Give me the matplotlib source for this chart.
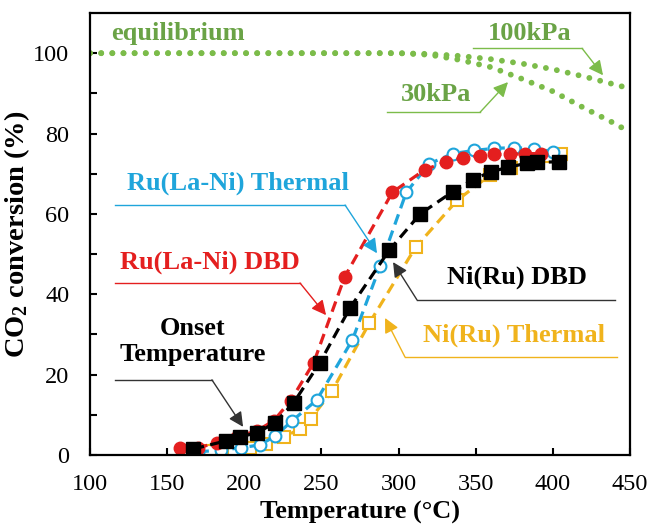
import numpy as np
import matplotlib
matplotlib.use("Agg")
import matplotlib.pyplot as plt

plt.rcParams['font.family'] = 'Liberation Serif'
plt.rcParams['mathtext.fontset'] = 'custom'
plt.rcParams['mathtext.rm'] = 'Liberation Serif'
plt.rcParams['mathtext.bf'] = 'Liberation Serif:bold'
plt.rcParams['mathtext.default'] = 'bf'

# equilibrium conversion at two pressures
eq_T = [100, 150, 200, 250, 300, 320, 340, 360, 380, 400, 420, 440, 450]
eq_100kPa = [100, 100, 100, 100, 100, 99.8, 99.3, 98.5, 97.4, 96.0, 94.2, 92.2, 91.2]
eq_30kPa = [100, 100, 100, 100, 100, 99.6, 98.3, 96.5, 93.6, 90.5, 86.4, 82.5, 80.3]

# Ru(La-Ni) DBD
ru_dbd_T = [158, 170, 182, 195, 208, 219, 230, 245, 265, 296, 317, 331, 342, 353, 362, 372, 382, 392]
ru_dbd = [1.8, 1.8, 3.0, 4.5, 6.0, 8.5, 13.5, 23.0, 44.3, 65.4, 71.0, 73.0, 74.0, 74.5, 74.8, 74.8, 75.0, 75.0]

# Ru(La-Ni) Thermal
ru_th_T = [170, 185, 198, 210, 220, 231, 247, 270, 288, 305, 320, 335, 349, 362, 375, 388, 400]
ru_th = [0.8, 1.2, 1.8, 2.5, 4.7, 8.5, 13.7, 28.6, 47.0, 65.4, 72.5, 75.0, 75.8, 76.3, 76.5, 76.2, 75.5]

# Ni(Ru) DBD
ni_dbd_T = [167, 188, 197, 208, 220, 232, 249, 268.5, 294, 314, 335, 348, 360, 371, 383, 390, 404]
ni_dbd = [1.5, 3.5, 4.5, 5.5, 8.0, 13.0, 23.0, 36.6, 51.0, 60.0, 65.5, 68.5, 70.5, 71.6, 72.6, 72.8, 73.0]

# Ni(Ru) Thermal
ni_th_T = [165, 178, 193, 204, 214, 226, 236, 243, 257, 281, 311, 338, 359, 373, 387, 397, 405]
ni_th = [0.5, 1.0, 1.2, 1.8, 2.8, 4.5, 6.5, 9.0, 16.0, 32.8, 51.7, 63.4, 69.6, 71.4, 73.5, 74.5, 75.0]

c_red = '#e41f1f'
c_blue = '#1fa5db'
c_gold = '#f0b31c'
c_green = '#7cbc4a'
c_green_txt = '#6aa346'

fig = plt.figure(figsize=(6.5, 5.28), dpi=100)
axs = fig.add_axes([0.1385, 0.1383, 0.8308, 0.8371])

dot = dict(ls=(0, (0.01, 1.9)), lw=4.2, dash_capstyle='round', color=c_green)
axs.plot(eq_T, eq_100kPa, **dot)
axs.plot(eq_T, eq_30kPa, **dot)

dash = (0, (3.4, 2.0))
axs.plot(ni_th_T, ni_th, ls=dash, lw=2.3, color=c_gold, marker='s', ms=8,
         mfc='white', mec=c_gold, mew=1.5)
axs.plot(ru_th_T, ru_th, ls=dash, lw=2.3, color=c_blue, marker='o', ms=8.5,
         mfc='white', mec=c_blue, mew=1.5)
axs.plot(ru_dbd_T, ru_dbd, ls=dash, lw=2.3, color=c_red, marker='o', ms=9,
         mfc=c_red, mec=c_red)
axs.plot(ni_dbd_T, ni_dbd, ls=dash, lw=2.3, color='black', marker='s', ms=9.5,
         mfc='black', mec='black')


def callout(text, color, txt_xy, path, fs=19, line_color=None):
    lc = line_color or color
    axs.text(txt_xy[0], txt_xy[1], text, color=color, fontsize=fs, fontweight='bold',
             ha='center', va='center', linespacing=1.15)
    xs = [p[0] for p in path]
    ys = [p[1] for p in path]
    axs.plot(xs[:-1], ys[:-1], color=lc, lw=1.0)
    axs.annotate('', xy=path[-1], xytext=path[-2],
                 arrowprops=dict(arrowstyle='-|>', color=lc, lw=1.0,
                                 mutation_scale=22, shrinkA=0, shrinkB=0))


callout('Ru(La-Ni) Thermal', c_blue, (195.6, 67.7),
        [(116.2, 62.2), (265.3, 62.2), (286.0, 50.2)])
callout('Ru(La-Ni) DBD', c_red, (177.8, 48.0),
        [(116.2, 42.8), (236.1, 42.8), (253.0, 34.8)])
callout('Onset\nTemperature', 'black', (166.5, 28.2),
        [(116.2, 18.7), (179.0, 18.7), (199.2, 7.0)], line_color='#333333')
callout('Ni(Ru) DBD', 'black', (377.0, 44.3),
        [(440.2, 38.6), (311.9, 38.6), (296.4, 48.0)], line_color='#333333')
callout('Ni(Ru) Thermal', c_gold, (374.8, 29.9),
        [(441.5, 24.4), (304.1, 24.4), (291.2, 34.1)])
callout('100kPa', c_green_txt, (385.0, 105.0),
        [(348.2, 101.2), (418.9, 101.2), (432.5, 94.5)], line_color=c_green)
callout('30kPa', c_green_txt, (324.2, 89.6),
        [(292.5, 85.3), (352.8, 85.3), (370.9, 92.8)], line_color=c_green)
axs.text(157, 105, 'equilibrium', color=c_green_txt, fontsize=19, fontweight='bold',
         ha='center', va='center')

axs.set_xlim(100, 450)
axs.set_ylim(0, 110)
axs.set_xticks(np.arange(100, 451, 50))
axs.set_yticks(np.arange(0, 101, 10))
axs.set_yticklabels([str(v) if v % 20 == 0 else '' for v in range(0, 101, 10)])

for s in axs.spines.values():
    s.set_linewidth(1.6)
axs.tick_params(axis='both', which='major', direction='in', length=5, width=1.5,
                labelsize=17.5)
axs.tick_params(axis='x', pad=14)
axs.tick_params(axis='y', pad=15)

axs.set_xlabel('Temperature (°C)', fontsize=19, fontweight='bold', labelpad=4)
axs.set_ylabel('CO$_2$ conversion (%)', fontsize=20.5, fontweight='bold', labelpad=1)

plt.savefig('out.png', dpi=100)
